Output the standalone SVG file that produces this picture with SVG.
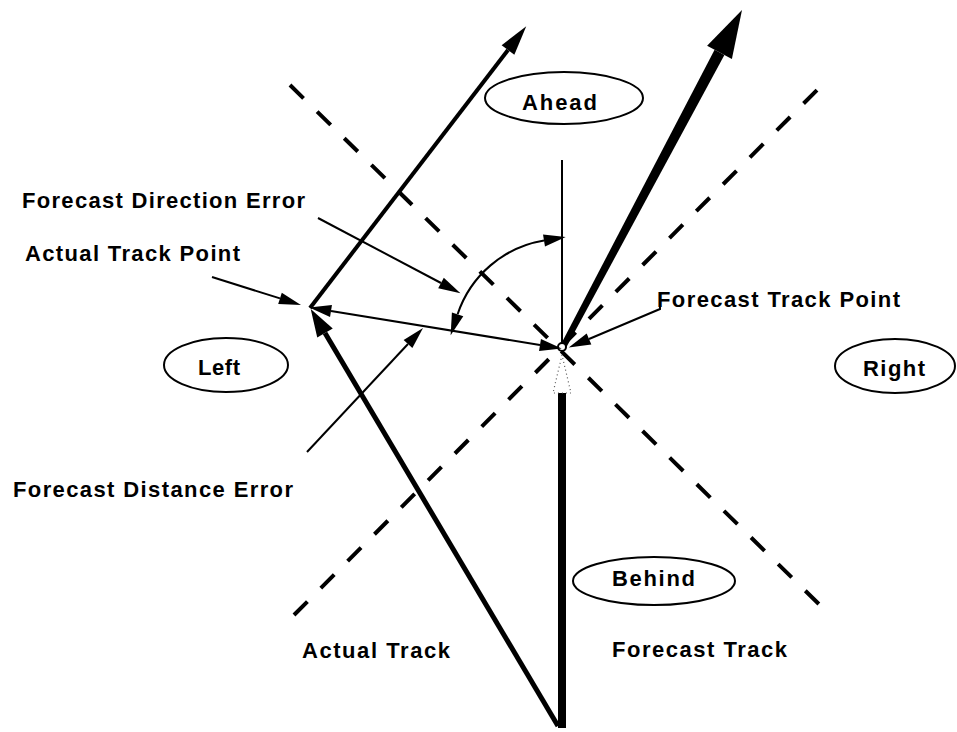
<svg xmlns="http://www.w3.org/2000/svg" width="957" height="732" viewBox="0 0 957 732">
<style>
  .lbl { font-family: "Liberation Sans", Arial, sans-serif; font-size: 22px; font-weight: bold; fill: #000; }
  .oval { fill: none; stroke: #000; stroke-width: 2; }
  .dash { fill: none; stroke: #000; stroke-width: 4; stroke-dasharray: 19 19; }
  .thin { fill: none; stroke: #000; stroke-width: 2; }
</style>
<defs>
  <marker id="arrS" markerUnits="userSpaceOnUse" viewBox="-1 -7 24 14" refX="0" refY="0" markerWidth="24" markerHeight="14" orient="auto-start-reverse">
    <path d="M0,-6 L22,0 L0,6 Z" fill="#000"/>
  </marker>
  <marker id="arrM" markerUnits="userSpaceOnUse" viewBox="-1 -10 30 20" refX="0" refY="0" markerWidth="30" markerHeight="20" orient="auto">
    <path d="M0,-9 L28,0 L0,9 Z" fill="#000"/>
  </marker>
  <marker id="arrU" markerUnits="userSpaceOnUse" viewBox="-1 -9 32 18" refX="0" refY="0" markerWidth="32" markerHeight="18" orient="auto">
    <path d="M0,-8 L30,0 L0,8 Z" fill="#000"/>
  </marker>
</defs>
<rect width="957" height="732" fill="#fff"/>

<g id="connectors">
  <!-- dashed sector boundaries -->
  <line class="dash" x1="290" y1="85" x2="830" y2="615"/>
  <line class="dash" x1="294" y1="615" x2="823" y2="84"/>
  <!-- vertical reference line -->
  <line class="thin" x1="562" y1="160" x2="562" y2="349"/>
  <!-- actual track -->
  <line stroke="#000" stroke-width="5" x1="558" y1="726" x2="325" y2="333" marker-end="url(#arrM)"/>
  <line stroke="#000" stroke-width="4" x1="310" y1="308" x2="508" y2="50" marker-end="url(#arrU)"/>
  <!-- forecast track -->
  <line stroke="#000" stroke-width="8" x1="562" y1="728" x2="562" y2="393"/>
  <polygon points="562,355 553,393 571,393" fill="#fff" stroke="#555" stroke-width="1.2" stroke-dasharray="1 3"/>
  <polygon points="560.3,345.5 714.6,49.8 724.4,55.0 565.7,348.5" fill="#000"/>
  <polygon points="742,10 731.9,59.0 707.1,45.8" fill="#000"/>
  <circle cx="562" cy="347" r="4" fill="#fff" stroke="#000" stroke-width="2"/>
  <!-- forecast distance error -->
  <line class="thin" x1="331" y1="311" x2="540" y2="345" marker-start="url(#arrS)" marker-end="url(#arrS)"/>
  <!-- forecast direction error arc -->
  <path class="thin" d="M544,240.5 A110,110 0 0 0 457.6,314.3" marker-start="url(#arrS)" marker-end="url(#arrS)"/>
  <!-- label pointers -->
  <line class="thin" x1="318" y1="218" x2="441" y2="283" marker-end="url(#arrS)"/>
  <line class="thin" x1="212" y1="277" x2="280" y2="298.4" marker-end="url(#arrS)"/>
  <line class="thin" x1="307" y1="452" x2="408" y2="344" marker-end="url(#arrS)"/>
  <polyline class="thin" points="660,292 660,309 589,339" marker-end="url(#arrS)"/>
</g>

<g id="node-ahead">
  <ellipse class="oval" cx="564" cy="98" rx="79" ry="26"/>
  <text class="lbl" x="522" y="110" textLength="75" lengthAdjust="spacing">Ahead</text>
</g>
<g id="node-behind">
  <ellipse class="oval" cx="654" cy="581" rx="81" ry="24"/>
  <text class="lbl" x="612" y="586" textLength="83" lengthAdjust="spacing">Behind</text>
</g>
<g id="node-left">
  <ellipse class="oval" cx="226" cy="365" rx="62" ry="27"/>
  <text class="lbl" x="198" y="375" textLength="42" lengthAdjust="spacing">Left</text>
</g>
<g id="node-right">
  <ellipse class="oval" cx="895" cy="366" rx="60" ry="27"/>
  <text class="lbl" x="863" y="376" textLength="62" lengthAdjust="spacing">Right</text>
</g>
<g id="label-direction-error">
  <text class="lbl" x="22" y="208" textLength="283" lengthAdjust="spacing">Forecast Direction Error</text>
</g>
<g id="label-actual-point">
  <text class="lbl" x="25" y="261" textLength="215" lengthAdjust="spacing">Actual Track Point</text>
</g>
<g id="label-forecast-point">
  <text class="lbl" x="657" y="307" textLength="243" lengthAdjust="spacing">Forecast Track Point</text>
</g>
<g id="label-distance-error">
  <text class="lbl" x="13" y="497" textLength="280" lengthAdjust="spacing">Forecast Distance Error</text>
</g>
<g id="label-actual-track">
  <text class="lbl" x="302" y="658" textLength="148" lengthAdjust="spacing">Actual Track</text>
</g>
<g id="label-forecast-track">
  <text class="lbl" x="612" y="657" textLength="175" lengthAdjust="spacing">Forecast Track</text>
</g>
</svg>
